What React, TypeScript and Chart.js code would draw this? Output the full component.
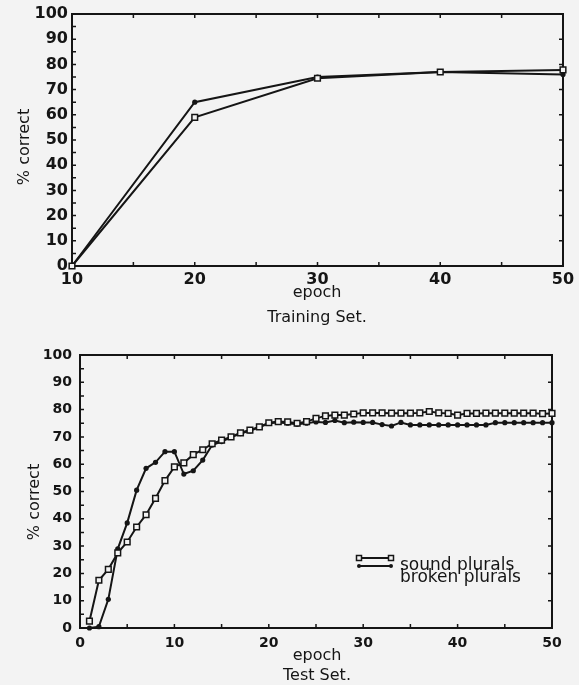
import { useEffect, useRef } from "react";
import { Chart, registerables } from "chart.js";

Chart.register(...registerables);

// ---------- data ----------
const trainEpochs = [10, 20, 30, 40, 50];
const trainSound = [0, 59, 74.5, 77, 77.8];
const trainBroken = [0, 65, 75, 77, 76];

const testEpochs = [
  1, 2, 3, 4, 5, 6, 7, 8, 9, 10, 11, 12, 13, 14, 15, 16, 17, 18, 19, 20, 21, 22, 23, 24, 25,
  26, 27, 28, 29, 30, 31, 32, 33, 34, 35, 36, 37, 38, 39, 40, 41, 42, 43, 44, 45, 46, 47, 48, 49, 50,
];
const testSound = [
  2.5, 17.5, 21.5, 27.5, 31.5, 37, 41.5, 47.5, 54, 59, 60.5, 63.5, 65.3, 67.5, 68.8, 70, 71.5, 72.5,
  73.7, 75.2, 75.6, 75.5, 75, 75.6, 76.8, 77.7, 78, 78, 78.4, 78.8, 78.8, 78.8, 78.7, 78.7, 78.7,
  78.8, 79.3, 78.8, 78.6, 78, 78.6, 78.6, 78.7, 78.7, 78.7, 78.7, 78.7, 78.7, 78.5, 78.6,
];
const testBroken = [
  0, 0.5, 10.5, 29, 38.5, 50.5, 58.5, 60.7, 64.6, 64.6, 56.4, 57.6, 61.5, 67, 68.3, 69.8, 71.2, 72.2,
  73.5, 75, 75.3, 75, 74.6, 75, 75.5, 75.3, 76, 75.2, 75.4, 75.3, 75.3, 74.5, 74, 75.3, 74.4, 74.4,
  74.4, 74.4, 74.4, 74.4, 74.4, 74.4, 74.4, 75.2, 75.2, 75.2, 75.2, 75.2, 75.2, 75.2,
];

const seriesNames = ["sound plurals", "broken plurals"];
const yTitle = "% correct";
const xTitle = "epoch";
const trainCaption = "Training Set.";
const testCaption = "Test Set.";

// ---------- style ----------
const FONT = "'DejaVu Sans', sans-serif";
const INK = "#151515";
const BG = "#f3f3f3";

const zip = (xs: number[], ys: number[]) => xs.map((x, i) => ({ x, y: ys[i] }));

const framePlugin = {
  id: "frameTicks",
  beforeDatasetsDraw(chart: any, _args: any, opts: any) {
    const { ctx, chartArea: a, scales } = chart;
    const xs = scales.x;
    const ys = scales.y;
    ctx.save();
    ctx.strokeStyle = INK;
    ctx.lineWidth = 2;
    ctx.strokeRect(a.left, a.top, a.right - a.left, a.bottom - a.top);
    ctx.lineWidth = 1.5;
    const len = opts.len || 4;
    ctx.beginPath();
    for (let v = ys.min; v <= ys.max + 1e-6; v += opts.leftStep) {
      const p = ys.getPixelForValue(v);
      ctx.moveTo(a.left, p);
      ctx.lineTo(a.left + len, p);
    }
    for (let v = ys.min; v <= ys.max + 1e-6; v += opts.rightStep) {
      const p = ys.getPixelForValue(v);
      ctx.moveTo(a.right, p);
      ctx.lineTo(a.right - len, p);
    }
    for (let v = xs.min; v <= xs.max + 1e-6; v += opts.xStep) {
      const p = xs.getPixelForValue(v);
      ctx.moveTo(p, a.bottom);
      ctx.lineTo(p, a.bottom - len);
      ctx.moveTo(p, a.top);
      ctx.lineTo(p, a.top + len);
    }
    ctx.stroke();
    ctx.restore();
  },
};

const textPlugin = {
  id: "extraText",
  afterDraw(chart: any, _args: any, opts: any) {
    const { ctx } = chart;
    ctx.save();
    ctx.fillStyle = INK;
    ctx.font = `16px ${FONT}`;
    // y title
    ctx.save();
    ctx.translate(opts.yTitleX, opts.yTitleY);
    ctx.rotate(-Math.PI / 2);
    ctx.textAlign = "center";
    ctx.textBaseline = "middle";
    ctx.fillText(yTitle, 0, 0);
    ctx.restore();
    // x title + caption
    ctx.textAlign = "center";
    ctx.textBaseline = "alphabetic";
    ctx.fillText(xTitle, opts.xTitleX, opts.xTitleY);
    ctx.fillText(opts.caption, opts.xTitleX, opts.captionY);

    // legend
    if (opts.legend) {
      const L = opts.legend;
      const ds = chart.data.datasets;
      L.rows.forEach((row: any, i: number) => {
        const d = ds[i];
        ctx.strokeStyle = INK;
        ctx.lineWidth = 2;
        ctx.beginPath();
        ctx.moveTo(L.x0, row.lineY);
        ctx.lineTo(L.x1, row.lineY);
        ctx.stroke();
        [L.x0, L.x1].forEach((px: number) => {
          if (d.pointStyle === "rect") {
            ctx.fillStyle = BG;
            ctx.lineWidth = 1.5;
            ctx.beginPath();
            ctx.rect(px - 2.5, row.lineY - 2.5, 5, 5);
            ctx.fill();
            ctx.stroke();
          } else {
            ctx.fillStyle = INK;
            ctx.beginPath();
            ctx.arc(px, row.lineY, 2, 0, Math.PI * 2);
            ctx.fill();
          }
        });
        ctx.fillStyle = INK;
        ctx.font = `17px ${FONT}`;
        ctx.textAlign = "left";
        ctx.textBaseline = "alphabetic";
        ctx.fillText(d.label, L.textX, row.textY);
      });
    }
    ctx.restore();
  },
};

function makeDatasets(xs: number[], sound: number[], broken: number[]) {
  return [
    {
      label: seriesNames[0],
      data: zip(xs, sound),
      borderColor: INK,
      borderWidth: 2,
      backgroundColor: BG,
      pointStyle: "rect",
      pointRadius: 4,
      pointBorderWidth: 1.5,
      pointBorderColor: INK,
      pointBackgroundColor: BG,
      tension: 0,
      clip: false as any,
    },
    {
      label: seriesNames[1],
      data: zip(xs, broken),
      borderColor: INK,
      borderWidth: 2,
      backgroundColor: INK,
      pointStyle: "circle",
      pointRadius: 2.6,
      pointBorderWidth: 0,
      pointBackgroundColor: INK,
      tension: 0,
      clip: false as any,
    },
  ];
}

function makeConfig(p: any): any {
  return {
    type: "line",
    data: { datasets: makeDatasets(p.xs, p.sound, p.broken) },
    options: {
      responsive: false,
      animation: false,
      events: [],
      layout: { padding: { top: p.padTop, right: p.padRight, left: 0, bottom: 0 } },
      plugins: {
        legend: { display: false },
        tooltip: { enabled: false },
        frameTicks: { leftStep: 5, rightStep: 10, xStep: 5, len: 4 },
        extraText: p.text,
      },
      scales: {
        x: {
          type: "linear",
          min: p.xMin,
          max: 50,
          grid: { display: false, drawTicks: false },
          border: { display: true, color: INK, width: 2 },
          ticks: {
            stepSize: 10,
            padding: p.xPad,
            color: INK,
            font: { family: FONT, size: p.tickSize, weight: "bold" },
            maxRotation: 0,
          },
          afterFit: (s: any) => {
            s.height = p.xHeight;
          },
        },
        y: {
          type: "linear",
          min: 0,
          max: 100,
          grid: { display: false, drawTicks: false },
          border: { display: true, color: INK, width: 2 },
          ticks: {
            stepSize: 10,
            padding: p.yPad,
            color: INK,
            font: { family: FONT, size: p.tickSize, weight: "bold" },
          },
          afterFit: (s: any) => {
            s.width = p.yWidth;
          },
        },
      },
    },
    plugins: [framePlugin, textPlugin],
  };
}

export default function App() {
  const topRef = useRef<HTMLCanvasElement>(null);
  const botRef = useRef<HTMLCanvasElement>(null);

  useEffect(() => {
    const top = new Chart(
      topRef.current as HTMLCanvasElement,
      makeConfig({
        xs: trainEpochs,
        sound: trainSound,
        broken: trainBroken,
        xMin: 10,
        padTop: 14,
        padRight: 16,
        xHeight: 64,
        yWidth: 72,
        xPad: 4,
        yPad: 4,
        tickSize: 16,
        text: {
          yTitleX: 25,
          yTitleY: 147,
          xTitleX: 317,
          xTitleY: 297,
          caption: trainCaption,
          captionY: 322,
        },
      })
    );
    const bot = new Chart(
      botRef.current as HTMLCanvasElement,
      makeConfig({
        xs: testEpochs,
        sound: testSound,
        broken: testBroken,
        xMin: 0,
        padTop: 25,
        padRight: 27,
        xHeight: 57,
        yWidth: 80,
        xPad: 7,
        yPad: 8,
        tickSize: 14,
        text: {
          yTitleX: 35,
          yTitleY: 172,
          xTitleX: 317,
          xTitleY: 330,
          caption: testCaption,
          captionY: 350,
          legend: {
            x0: 359,
            x1: 391,
            textX: 400,
            rows: [
              { lineY: 228, textY: 240 },
              { lineY: 236, textY: 252 },
            ],
          },
        },
      })
    );
    return () => {
      top.destroy();
      bot.destroy();
    };
  }, []);

  return (
    <div
      style={{
        position: "fixed",
        left: 0,
        top: 0,
        width: 579,
        height: 685,
        background: BG,
        overflow: "hidden",
      }}
    >
      <canvas
        ref={topRef}
        width={579}
        height={330}
        style={{ position: "absolute", left: 0, top: 0, width: 579, height: 330, display: "block" }}
      />
      <canvas
        ref={botRef}
        width={579}
        height={355}
        style={{ position: "absolute", left: 0, top: 330, width: 579, height: 355, display: "block" }}
      />
    </div>
  );
}
